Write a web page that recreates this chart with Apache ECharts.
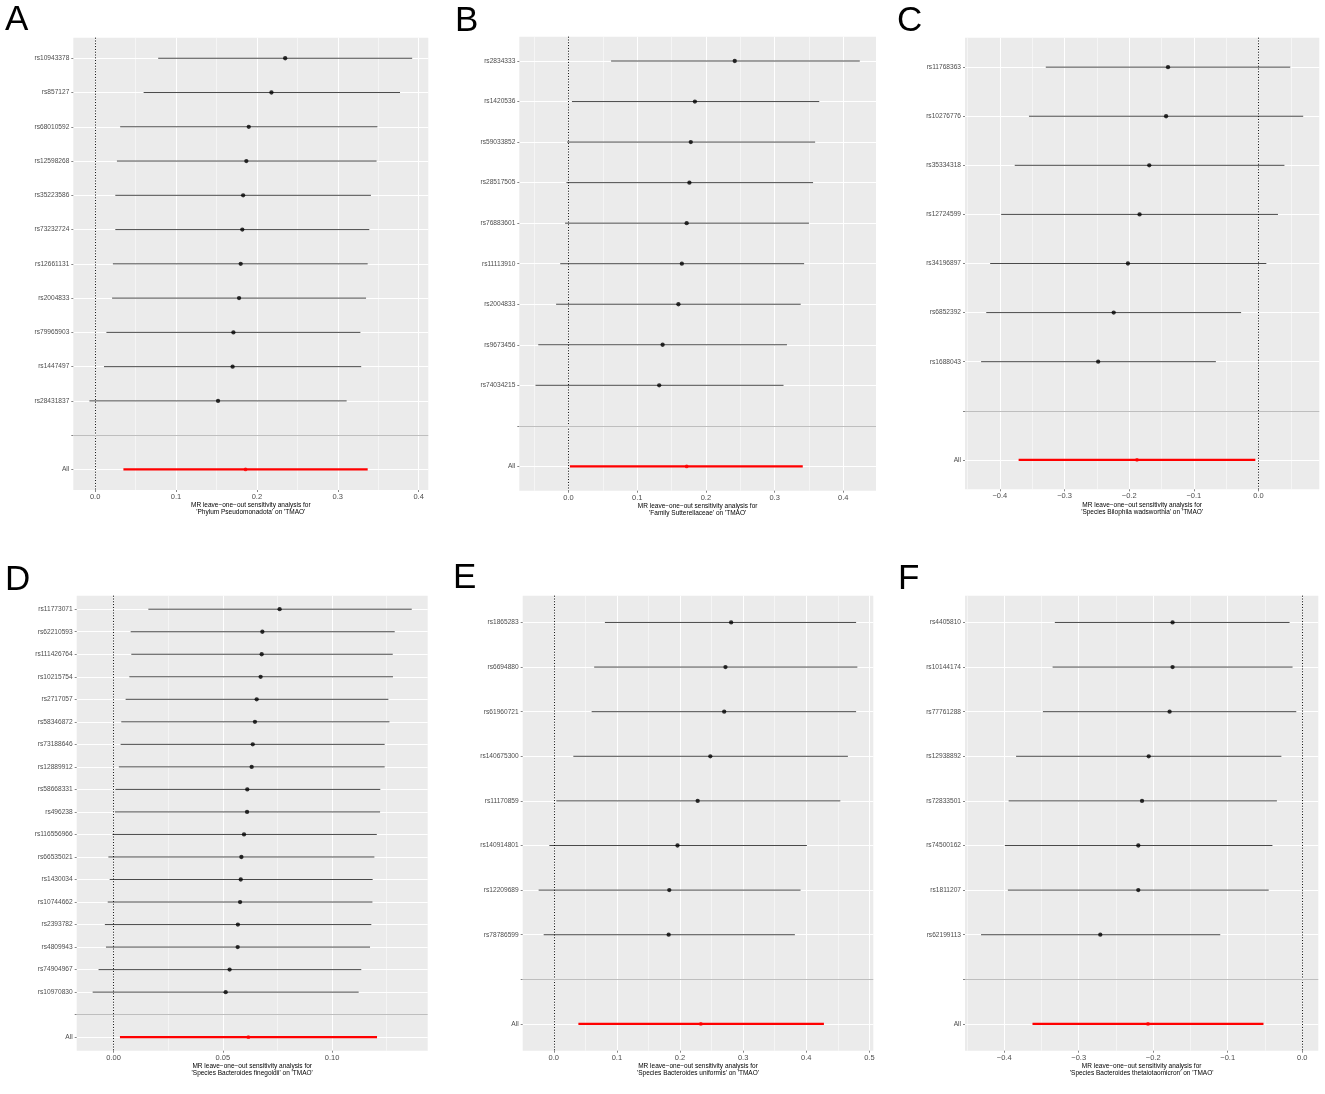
<!DOCTYPE html>
<html>
<head>
<meta charset="utf-8">
<title>MR leave-one-out</title>
<script src="https://cdn.jsdelivr.net/npm/echarts@6.0.0/dist/echarts.min.js"></script>
<style>
  html, body { margin: 0; padding: 0; background: #fff; }
  #main { width: 1325px; height: 1094px; }
</style>
</head>
<body>
<div id="main"></div>
<script>
// ---- data: SNP labels, estimates (b), lower / upper CI, and the "All" row [lo, b, hi]
var snpsA = ['rs10943378', 'rs857127', 'rs68010592', 'rs12598268', 'rs35223586', 'rs73232724',
  'rs12661131', 'rs2004833', 'rs79965903', 'rs1447497', 'rs28431837'];
var bA = [0.235, 0.218, 0.190, 0.187, 0.183, 0.182, 0.180, 0.178, 0.171, 0.170, 0.152];
var loA = [0.078, 0.060, 0.031, 0.027, 0.025, 0.025, 0.022, 0.021, 0.014, 0.011, -0.007];
var hiA = [0.392, 0.377, 0.349, 0.348, 0.341, 0.339, 0.337, 0.335, 0.328, 0.329, 0.311];
var allA = [0.035, 0.186, 0.337];
var ticksA = [0, 0.1, 0.2, 0.3, 0.4];

var snpsB = ['rs2834333', 'rs1420536', 'rs59033852', 'rs28517505', 'rs76883601', 'rs11113910',
  'rs2004833', 'rs9673456', 'rs74034215'];
var bB = [0.242, 0.184, 0.178, 0.176, 0.172, 0.165, 0.160, 0.137, 0.132];
var loB = [0.062, 0.005, -0.002, -0.003, -0.005, -0.012, -0.018, -0.044, -0.048];
var hiB = [0.424, 0.365, 0.359, 0.356, 0.350, 0.343, 0.338, 0.318, 0.313];
var allB = [0.002, 0.172, 0.341];
var ticksB = [0, 0.1, 0.2, 0.3, 0.4];

var snpsC = ['rs11768363', 'rs10276776', 'rs35334318', 'rs12724599', 'rs34196897', 'rs6852392', 'rs1688043'];
var bC = [-0.140, -0.143, -0.169, -0.184, -0.202, -0.224, -0.248];
var loC = [-0.329, -0.355, -0.377, -0.398, -0.415, -0.421, -0.429];
var hiC = [0.049, 0.069, 0.040, 0.030, 0.012, -0.027, -0.066];
var allC = [-0.371, -0.188, -0.005];
var ticksC = [-0.4, -0.3, -0.2, -0.1, 0];

var snpsD = ['rs11773071', 'rs62210593', 'rs111426764', 'rs10215754', 'rs2717057', 'rs58346872',
  'rs73188646', 'rs12889912', 'rs58668331', 'rs496238', 'rs116556966', 'rs66535021', 'rs1430034',
  'rs10744662', 'rs2393782', 'rs4809943', 'rs74904967', 'rs10970830'];
var bD = [0.0760, 0.0681, 0.0678, 0.0673, 0.0655, 0.0647, 0.0637, 0.0632, 0.0612, 0.0611,
  0.0597, 0.0585, 0.0582, 0.0579, 0.0569, 0.0568, 0.0531, 0.0513];
var loD = [0.0159, 0.0078, 0.0081, 0.0072, 0.0055, 0.0035, 0.0032, 0.0024, 0.0008, 0.0006,
  -0.0005, -0.0024, -0.0018, -0.0027, -0.0040, -0.0035, -0.0069, -0.0096];
var hiD = [0.1365, 0.1287, 0.1278, 0.1279, 0.1258, 0.1263, 0.1241, 0.1241, 0.1221, 0.1220,
  0.1205, 0.1194, 0.1186, 0.1185, 0.1180, 0.1174, 0.1134, 0.1122];
var allD = [0.0029, 0.0617, 0.1206];
var ticksD = [0, 0.05, 0.10];

var snpsE = ['rs1865283', 'rs6694880', 'rs61960721', 'rs140675300', 'rs11170859', 'rs140914801',
  'rs12209689', 'rs78786599'];
var bE = [0.281, 0.272, 0.270, 0.248, 0.228, 0.196, 0.183, 0.182];
var loE = [0.081, 0.064, 0.060, 0.031, 0.004, -0.007, -0.024, -0.016];
var hiE = [0.479, 0.481, 0.479, 0.466, 0.454, 0.401, 0.391, 0.382];
var allE = [0.039, 0.233, 0.428];
var ticksE = [0, 0.1, 0.2, 0.3, 0.4, 0.5];

var snpsF = ['rs4405810', 'rs10144174', 'rs77761288', 'rs12938892', 'rs72833501', 'rs74500162',
  'rs1811207', 'rs62199113'];
var bF = [-0.174, -0.174, -0.178, -0.206, -0.215, -0.220, -0.220, -0.271];
var loF = [-0.332, -0.335, -0.348, -0.384, -0.394, -0.399, -0.395, -0.431];
var hiF = [-0.017, -0.013, -0.008, -0.028, -0.034, -0.040, -0.045, -0.110];
var allF = [-0.362, -0.207, -0.052];
var ticksF = [-0.4, -0.3, -0.2, -0.1, 0];

var exposures = ["'Phylum Pseudomonadota' on 'TMAO'", "'Family Sutterellaceae' on 'TMAO'",
  "'Species Bilophila wadsworthia' on 'TMAO'", "'Species Bacteroides finegoldii' on 'TMAO'",
  "'Species Bacteroides uniformis' on 'TMAO'", "'Species Bacteroides thetaiotaomicron' on 'TMAO'"];

// ---- layout of the six panels (pixel boxes of the grey plot area)
var panels = [
  { letter: 'A', snps: snpsA, b: bA, lo: loA, hi: hiA, all: allA, ticks: ticksA, step: 0.1, dec: 1,
    box: [73.3, 37.7, 355, 452.3], lx: 5, ly: 20.5 },
  { letter: 'B', snps: snpsB, b: bB, lo: loB, hi: hiB, all: allB, ticks: ticksB, step: 0.1, dec: 1,
    box: [519.3, 36.7, 356.7, 454], lx: 455, ly: 21 },
  { letter: 'C', snps: snpsC, b: bC, lo: loC, hi: hiC, all: allC, ticks: ticksC, step: 0.1, dec: 1,
    box: [965, 37.7, 354.3, 451.6], lx: 897, ly: 21.5 },
  { letter: 'D', snps: snpsD, b: bD, lo: loD, hi: hiD, all: allD, ticks: ticksD, step: 0.05, dec: 2,
    box: [76.7, 595.7, 351, 455], lx: 5, ly: 580 },
  { letter: 'E', snps: snpsE, b: bE, lo: loE, hi: hiE, all: allE, ticks: ticksE, step: 0.1, dec: 1,
    box: [522.7, 595.7, 350.6, 455], lx: 453, ly: 578.5 },
  { letter: 'F', snps: snpsF, b: bF, lo: loF, hi: hiF, all: allF, ticks: ticksF, step: 0.1, dec: 1,
    box: [965, 595.7, 353.3, 455], lx: 898, ly: 579.5 }
];

var FONT = 'Liberation Sans, Arial, Helvetica, sans-serif';
var chart = echarts.init(document.getElementById('main'), null, { renderer: 'canvas' });

var grids = [], xAxes = [], yAxes = [], series = [], graphics = [];

panels.forEach(function (p, k) {
  var n = p.snps.length;
  var names = p.snps.concat(['', 'All']);
  var rows = names.map(function (_, i) { return i; });

  // ggplot-like 5% expansion of the x range (0 line included)
  var xmin = Math.min.apply(null, p.lo.concat([p.all[0], 0]));
  var xmax = Math.max.apply(null, p.hi.concat([p.all[2], 0]));
  var pad = (xmax - xmin) * 0.05;

  grids.push({
    left: p.box[0], top: p.box[1], width: p.box[2], height: p.box[3],
    show: true, backgroundColor: '#EBEBEB', borderWidth: 0,
    containLabel: false, outerBoundsMode: 'none'
  });

  xAxes.push({
    type: 'value', gridIndex: k, position: 'bottom',
    min: xmin - pad, max: xmax + pad,
    minInterval: p.step, maxInterval: p.step,
    axisLine: { show: false, onZero: false },
    axisTick: { show: true, length: 2, customValues: p.ticks, lineStyle: { color: '#333', width: 0.6 } },
    axisLabel: {
      customValues: p.ticks, margin: 3, fontSize: 7.5, color: '#4D4D4D', fontFamily: FONT,
      formatter: function (v) { return v.toFixed(p.dec).replace('-', '\u2212'); }
    },
    splitLine: { show: true, lineStyle: { color: '#FFFFFF', width: 1 } },
    minorTick: { show: false, splitNumber: 2 },
    minorSplitLine: { show: true, lineStyle: { color: '#FFFFFF', width: 0.5 } },
    name: 'MR leave\u2212one\u2212out sensitivity analysis for\n' + exposures[k],
    nameLocation: 'middle', nameGap: 12, nameMoveOverlap: false,
    nameTextStyle: { fontSize: 6.5, lineHeight: 7, color: '#000', fontFamily: FONT }
  });

  yAxes.push({
    type: 'value', gridIndex: k, inverse: true, position: 'left',
    min: -0.6, max: n + 1.6,
    axisLine: { show: false, onZero: false },
    axisTick: { show: true, length: 2, customValues: rows, lineStyle: { color: '#333', width: 0.6 } },
    axisLabel: {
      customValues: rows, margin: 4, fontSize: 6.6, color: '#4D4D4D', fontFamily: FONT,
      formatter: function (v) { return names[Math.round(v)] || ''; }
    },
    splitLine: { show: true, lineStyle: { color: '#FFFFFF', width: 1 } },
    minorSplitLine: { show: false }
  });

  var bars = p.snps.map(function (s, i) { return [p.lo[i], p.hi[i], i, 0]; });
  bars.push([p.all[0], p.all[2], n + 1, 1]);

  // horizontal error bars + dotted zero line
  series.push({
    type: 'custom', xAxisIndex: k, yAxisIndex: k, z: 2, silent: true,
    encode: { x: [0, 1], y: 2 },
    data: bars,
    renderItem: function (params, api) {
      var a = api.coord([api.value(0), api.value(2)]);
      var c = api.coord([api.value(1), api.value(2)]);
      var isAll = api.value(3) === 1;
      return {
        type: 'line',
        shape: { x1: a[0], y1: a[1], x2: c[0], y2: c[1] },
        style: { stroke: isAll ? '#FF0000' : '#4a4a4a', lineWidth: isAll ? 2.2 : 1 }
      };
    },
    markLine: {
      silent: true, symbol: 'none', label: { show: false }, animation: false,
      lineStyle: { color: '#000', width: 1, type: [1, 1.8] },
      data: [{ xAxis: 0 }]
    }
  });

  // point estimates
  series.push({
    type: 'scatter', xAxisIndex: k, yAxisIndex: k, z: 3, silent: true,
    symbol: 'circle', symbolSize: 4.3,
    itemStyle: { color: '#000' },
    data: p.snps.map(function (s, i) { return [p.b[i], i]; }),
    markLine: {
      silent: true, symbol: 'none', label: { show: false }, animation: false,
      lineStyle: { color: '#BEBEBE', width: 1, type: 'solid' },
      data: [{ yAxis: n }]
    }
  });
  series.push({
    type: 'scatter', xAxisIndex: k, yAxisIndex: k, z: 4, silent: true,
    symbol: 'circle', symbolSize: 3.8,
    itemStyle: { color: '#FF0000' },
    data: [[p.all[1], n + 1]]
  });

  graphics.push({
    type: 'text', x: p.lx, y: p.ly, silent: true,
    style: { text: p.letter, fontSize: 35, fontFamily: FONT, fill: '#000', verticalAlign: 'middle', align: 'left' }
  });
});

chart.setOption({
  animation: false,
  backgroundColor: '#FFFFFF',
  grid: grids,
  xAxis: xAxes,
  yAxis: yAxes,
  series: series,
  graphic: graphics
});
</script>
</body>
</html>
